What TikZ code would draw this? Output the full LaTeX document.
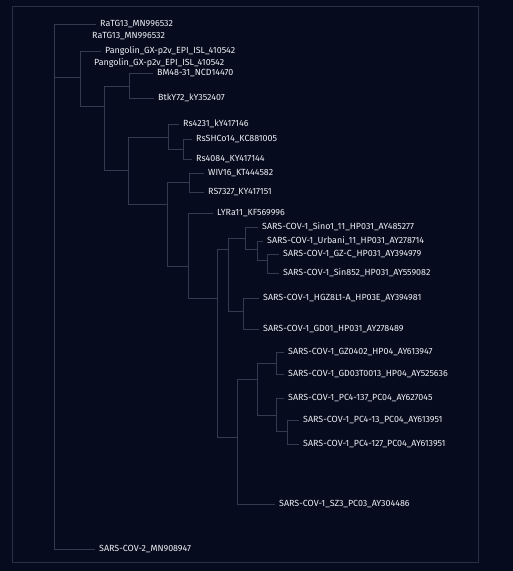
\documentclass[tikz,border=0pt]{standalone}
\usepackage{fontspec}
\setmainfont{Fira Sans}
\definecolor{bgc}{HTML}{060B1D}
\definecolor{brc}{HTML}{343A4F}
\definecolor{frc}{HTML}{2A2F43}
\definecolor{txc}{HTML}{EEF0F5}
\tikzset{
  br/.style={draw=brc, line width=0.9pt},
  lab/.style={anchor=west, inner xsep=4pt, inner ysep=0pt, text=txc,
    font=\fontsize{8.9}{9}\selectfont, text height=7pt, text depth=3pt},
}
\begin{document}
\begin{tikzpicture}[x=1pt,y=-1pt]
\useasboundingbox (0,0) rectangle (513,571);
\fill[bgc] (0,0) rectangle (513,571);
\draw[frc, line width=0.9pt] (12,6) rectangle (478,562);
% leaf labels
\node[lab] (l1) at (96,24) {RaTG13\_MN996532};
\node[lab] (l2) at (88,36) {RaTG13\_MN996532};
\node[lab] (l3) at (101,51) {Pangolin\_GX-p2v\_EPI\_ISL\_410542};
\node[lab] (l4) at (90,63) {Pangolin\_GX-p2v\_EPI\_ISL\_410542};
\node[lab] (l5) at (153,73) {BM48-31\_NCD14470};
\node[lab] (l6) at (154,98) {BtkY72\_kY352407};
\node[lab] (l7) at (179,124) {Rs4231\_kY417146};
\node[lab] (l8) at (192,139) {RsSHCo14\_KC881005};
\node[lab] (l9) at (192,159) {Rs4084\_KY417144};
\node[lab] (l10) at (204,173) {WIV16\_KT444582};
\node[lab] (l11) at (204,192) {RS7327\_KY417151};
\node[lab] (l12) at (213,213) {LYRa11\_KF569996};
\node[lab] (l13) at (258,227) {SARS-COV-1\_Sino1\_11\_HP031\_AY485277};
\node[lab] (l14) at (263,241) {SARS-COV-1\_Urbani\_11\_HP031\_AY278714};
\node[lab] (l15) at (279,254) {SARS-COV-1\_GZ-C\_HP031\_AY394979};
\node[lab] (l16) at (279,273) {SARS-COV-1\_Sin852\_HP031\_AY559082};
\node[lab] (l17) at (259,298) {SARS-COV-1\_HGZ8L1-A\_HP03E\_AY394981};
\node[lab] (l18) at (259,329) {SARS-COV-1\_GD01\_HP031\_AY278489};
\node[lab] (l19) at (284,352) {SARS-COV-1\_GZ0402\_HP04\_AY613947};
\node[lab] (l20) at (284,374) {SARS-COV-1\_GD03T0013\_HP04\_AY525636};
\node[lab] (l21) at (284,398) {SARS-COV-1\_PC4-137\_PC04\_AY627045};
\node[lab] (l22) at (299,420) {SARS-COV-1\_PC4-13\_PC04\_AY613951};
\node[lab] (l23) at (299,444) {SARS-COV-1\_PC4-127\_PC04\_AY613951};
\node[lab] (l24) at (275,504) {SARS-COV-1\_SZ3\_PC03\_AY304486};
\node[lab] (l25) at (95,549) {SARS-COV-2\_MN908947};
% internal node coordinates
\coordinate (r1) at (54,24);   \coordinate (r2) at (54,549);
\coordinate (a1) at (80,51);   \coordinate (a2) at (80,106);
\coordinate (b1) at (104,86);  \coordinate (b2) at (104,170);
\coordinate (c1) at (129,73);  \coordinate (c2) at (129,98);
\coordinate (d1) at (128,137); \coordinate (d2) at (128,204);
\coordinate (e1) at (168,124); \coordinate (e2) at (168,149);
\coordinate (f1) at (183,139); \coordinate (f2) at (183,159);
\coordinate (g1) at (167,182); \coordinate (g2) at (167,266);
\coordinate (h1) at (189,173); \coordinate (h2) at (189,192);
\coordinate (i1) at (188,213); \coordinate (i2) at (188,298);
\coordinate (j1) at (217,249); \coordinate (j2) at (217,437);
\coordinate (k1) at (228,238); \coordinate (k2) at (228,311);
\coordinate (m1) at (245,227); \coordinate (m2) at (245,249);
\coordinate (n1) at (257,241); \coordinate (n2) at (257,260);
\coordinate (o1) at (267,254); \coordinate (o2) at (267,273);
\coordinate (p1) at (243,298); \coordinate (p2) at (243,329);
\coordinate (q1) at (237,379); \coordinate (q2) at (237,504);
\coordinate (s1) at (257,363); \coordinate (s2) at (257,415);
\coordinate (t1) at (276,352); \coordinate (t2) at (276,374);
\coordinate (u1) at (276,398); \coordinate (u2) at (276,431);
\coordinate (v1) at (287,420); \coordinate (v2) at (287,444);
% branches
\draw[br] (l1.west) -- (r1) -- (r2) -- (l25.west);
\draw[br] (54,77) -- (80,77);
\draw[br] (l3.west) -- (a1) -- (a2) -- (104,106);
\draw[br] (b1) -- (b2);
\draw[br] (b1) -- (c1 |- b1);
\draw[br] (b2) -- (d1 |- b2);
\draw[br] (l5.west) -- (c1) -- (c2) -- (l6.west);
\draw[br] (d1) -- (d2);
\draw[br] (d1) -- (e1 |- d1);
\draw[br] (d2) -- (g1 |- d2);
\draw[br] (l7.west) -- (e1) -- (e2) -- (f1 |- e2);
\draw[br] (l8.west) -- (f1) -- (f2) -- (l9.west);
\draw[br] (h1 |- g1) -- (g1) -- (g2) -- (i1 |- g2);
\draw[br] (l10.west) -- (h1) -- (h2) -- (l11.west);
\draw[br] (l12.west) -- (i1) -- (i2) -- (j1 |- i2);
\draw[br] (k1 |- j1) -- (j1) -- (j2) -- (q1 |- j2);
\draw[br] (m1 |- k1) -- (k1) -- (k2) -- (p1 |- k2);
\draw[br] (l13.west) -- (m1) -- (m2) -- (n1 |- m2);
\draw[br] (l14.west) -- (n1) -- (n2) -- (o1 |- n2);
\draw[br] (l15.west) -- (o1) -- (o2) -- (l16.west);
\draw[br] (l17.west) -- (p1) -- (p2) -- (l18.west);
\draw[br] (s1 |- q1) -- (q1) -- (q2) -- (l24.west);
\draw[br] (t1 |- s1) -- (s1) -- (s2) -- (u1 |- s2);
\draw[br] (l19.west) -- (t1) -- (t2) -- (l20.west);
\draw[br] (l21.west) -- (u1) -- (u2) -- (v1 |- u2);
\draw[br] (l22.west) -- (v1) -- (v2) -- (l23.west);
\end{tikzpicture}
\end{document}
